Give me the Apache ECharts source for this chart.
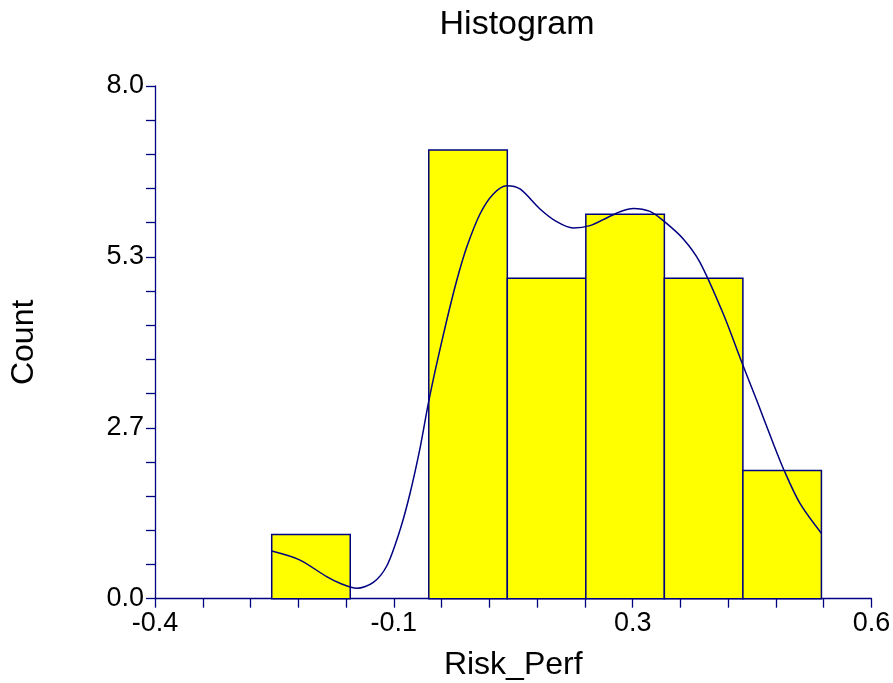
<!DOCTYPE html>
<html>
<head>
<meta charset="utf-8">
<script src="https://cdn.jsdelivr.net/npm/echarts@6/dist/echarts.min.js"></script>
<style>html,body{margin:0;padding:0;background:#fff;}#c{width:893px;height:683px;}</style>
</head>
<body>
<div id="c"></div>
<script>
// ---- data ----
const binEdges = [-0.2371, -0.1275, -0.0179, 0.0917, 0.2013, 0.3109, 0.4205, 0.5301];
const binCounts = [1, 0, 7, 5, 6, 5, 2];
const curveX = [-0.2371, -0.1976, -0.1604, -0.1418, -0.1185, -0.0953, -0.0766, -0.0581, -0.0441, -0.0301, -0.0186, -0.0068, 0.0071, 0.0211, 0.0350, 0.0536, 0.0722, 0.0909, 0.1094, 0.1373, 0.1606, 0.1838, 0.2071, 0.2304, 0.2490, 0.2676, 0.2908, 0.3094, 0.3373, 0.3606, 0.3931, 0.4188, 0.4398, 0.4629, 0.4779, 0.5002, 0.5301];
const curveY = [0.743, 0.603, 0.343, 0.240, 0.162, 0.255, 0.510, 1.070, 1.642, 2.350, 3.044, 3.667, 4.341, 4.964, 5.483, 6.003, 6.315, 6.444, 6.393, 6.081, 5.883, 5.785, 5.821, 5.941, 6.039, 6.090, 6.044, 5.899, 5.614, 5.249, 4.445, 3.692, 3.095, 2.421, 2.005, 1.486, 1.019];
const xTickValues = [-0.4, -0.0667, 0.2667, 0.6];
const xTickLabels = ['-0.4', '-0.1', '0.3', '0.6'];
const yTickValues = [0, 2.6667, 5.3333, 8];
const yTickLabels = ['0.0', '2.7', '5.3', '8.0'];
const titleText = 'Histogram';
const xName = 'Risk_Perf';
const yName = 'Count';

// ---- build ----
const NAVY = '#000080';
const FONT = 'Liberation Sans, Arial, sans-serif';
function subdivide(vals, n) {
  const out = [];
  for (let i = 0; i < vals.length - 1; i++) {
    for (let k = 0; k < n; k++) out.push(vals[i] + (vals[i + 1] - vals[i]) * k / n);
  }
  out.push(vals[vals.length - 1]);
  return out;
}
function labelFor(vals, labels) {
  return function (v) {
    let best = 0;
    for (let i = 1; i < vals.length; i++) if (Math.abs(vals[i] - v) < Math.abs(vals[best] - v)) best = i;
    return labels[best];
  };
}
const barData = binCounts.map((c, i) => [binEdges[i], binEdges[i + 1], c]).filter(d => d[2] > 0);
const lineData = curveX.map((x, i) => [x, curveY[i]]);

const chart = echarts.init(document.getElementById('c'), null, {renderer: 'canvas'});
chart.setOption({
  animation: false,
  backgroundColor: '#ffffff',
  title: {
    text: titleText, left: 512, top: 3, textAlign: 'center',
    textStyle: {fontFamily: FONT, fontSize: 34, fontWeight: 'normal', color: '#000'}
  },
  grid: {left: 155, right: 21.5, top: 86, bottom: 84.3, containLabel: false, outerBoundsMode: 'none'},
  xAxis: {
    type: 'value', min: -0.4, max: 0.6,
    name: xName, nameLocation: 'middle', nameGap: 50,
    nameTextStyle: {fontFamily: FONT, fontSize: 32, color: '#000'},
    axisLine: {show: true, onZero: false, lineStyle: {color: NAVY, width: 1.3}},
    axisTick: {show: true, inside: false, length: 9, customValues: subdivide(xTickValues, 5), lineStyle: {color: NAVY, width: 1.3}},
    axisLabel: {show: true, customValues: xTickValues, formatter: labelFor(xTickValues, xTickLabels), margin: 11,
      fontFamily: FONT, fontSize: 27, color: '#000'},
    splitLine: {show: false}
  },
  yAxis: {
    type: 'value', min: 0, max: 8,
    name: yName, nameLocation: 'middle', nameGap: 115, nameRotate: 90,
    nameTextStyle: {fontFamily: FONT, fontSize: 32, color: '#000'},
    axisLine: {show: true, onZero: false, lineStyle: {color: NAVY, width: 1.3}},
    axisTick: {show: true, inside: false, length: 9, customValues: subdivide(yTickValues, 5), lineStyle: {color: NAVY, width: 1.3}},
    axisLabel: {show: true, customValues: yTickValues, formatter: labelFor(yTickValues, yTickLabels), margin: 11,
      fontFamily: FONT, fontSize: 27, color: '#000'},
    splitLine: {show: false}
  },
  series: [
    {
      type: 'custom',
      data: barData,
      encode: {x: [0, 1], y: 2},
      renderItem: function (params, api) {
        const p0 = api.coord([api.value(0), 0]);
        const p1 = api.coord([api.value(1), api.value(2)]);
        return {
          type: 'rect',
          shape: {x: p0[0], y: p1[1], width: p1[0] - p0[0], height: p0[1] - p1[1]},
          style: {fill: '#ffff00', stroke: NAVY, lineWidth: 1.5}
        };
      },
      z: 2
    },
    {
      type: 'line',
      data: lineData,
      smooth: 0.3,
      showSymbol: false,
      symbol: 'none',
      lineStyle: {color: NAVY, width: 1.5},
      z: 3
    }
  ]
});
</script>
</body>
</html>
